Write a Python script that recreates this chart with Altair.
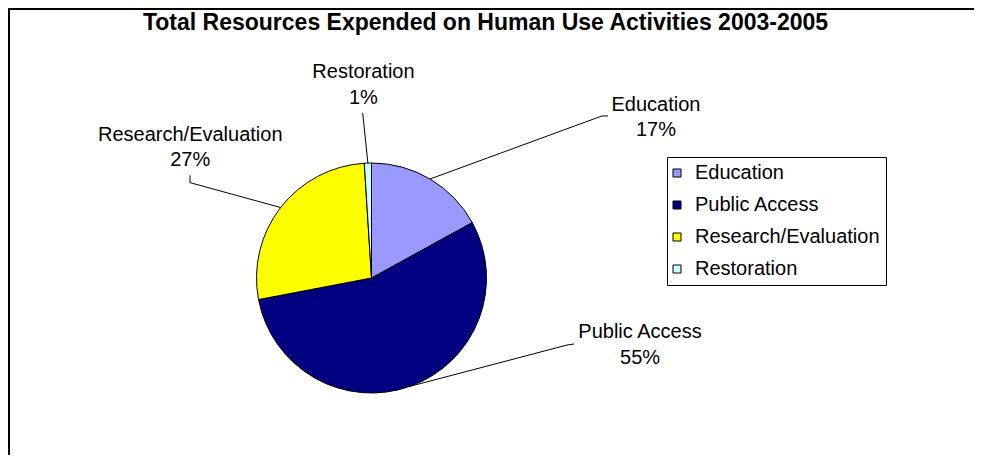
import math
import altair as alt
import pandas as pd

# ---------------- data ----------------
categories = ["Education", "Public Access", "Research/Evaluation", "Restoration"]
values = [17, 55, 27, 1]
colors = ["#9999FF", "#000080", "#FFFF00", "#CCFFFF"]
title_text = "Total Resources Expended on Human Use Activities 2003-2005"

# ---------------- layout (pie-radius units, origin = pie centre, y up) ----------------
leader_elbow = [(2.004, 1.409), (1.700, -0.583), (-1.578, 0.829), (-0.0765, 1.435)]
leader_end = [(2.057, 1.409), (1.761, -0.574), (-1.578, 0.893), (-0.0765, 1.435)]
label_pos = [(2.474, 1.455), (2.335, -0.522), (-1.576, 1.194), (-0.070, 1.737)]

W = 966          # plot width (px)
H = 447          # plot height (px)
R = 115          # pie radius (px)
CX = 363.5       # pie centre inside plot (px)
CY = 270.0

x_dom = [-CX / R, (W - CX) / R]
y_dom = [(CY - H) / R, CY / R]
xs = alt.Scale(domain=x_dom, nice=False, zero=False)
ys = alt.Scale(domain=y_dom, nice=False, zero=False)

FONT = "Liberation Sans"

total = sum(values)
df = pd.DataFrame({
    "category": categories,
    "value": values,
    "idx": list(range(len(categories))),
})
df["label"] = [f"{c}\n{round(v / total * 100)}%" for c, v in zip(categories, values)]

# leader lines: start at mid-angle of each slice on the rim
rows = []
cum = 0.0
for i, (c, v) in enumerate(zip(categories, values)):
    mid = (cum + v / 2) / total * 2 * math.pi
    cum += v
    pts = [(math.sin(mid), math.cos(mid)), leader_elbow[i], leader_end[i]]
    for k, (px, py) in enumerate(pts):
        rows.append({"category": c, "k": k, "x": px, "y": py})
lines_df = pd.DataFrame(rows)

labels_df = pd.DataFrame({
    "label": df["label"],
    "x": [p[0] for p in label_pos],
    "y": [p[1] for p in label_pos],
})

# chart frame (top and left edges), in the same units
fx_left = (1 - CX) / R
fy_top = (CY - 1) / R
frame_df = pd.DataFrame({
    "k": [0, 1, 2],
    "x": [fx_left, fx_left, (W + 8 - CX) / R],
    "y": [y_dom[0] - 0.1, fy_top, fy_top],
})

color_scale = alt.Scale(domain=categories, range=colors)

pie = alt.Chart(df).mark_arc(radius=R, stroke="black", strokeWidth=1).encode(
    theta=alt.Theta("value:Q", stack=True),
    order=alt.Order("idx:Q"),
    color=alt.Color(
        "category:N",
        scale=color_scale,
        legend=alt.Legend(
            title=None,
            orient="none",
            legendX=659,
            legendY=149,
            direction="vertical",
            symbolType="square",
            symbolSize=64,
            symbolStrokeColor="black",
            symbolStrokeWidth=1,
            symbolOffset=-6,
            labelFont=FONT,
            labelFontSize=20,
            labelColor="black",
            labelOffset=8,
            labelLimit=0,
            rowPadding=12,
            padding=6,
            strokeColor="black",
            fillColor="white",
        ),
    ),
    x=alt.value(CX),
    y=alt.value(CY),
)

leaders = alt.Chart(lines_df).mark_line(color="black", strokeWidth=1).encode(
    x=alt.X("x:Q", scale=xs, axis=None),
    y=alt.Y("y:Q", scale=ys, axis=None),
    detail="category:N",
    order="k:Q",
)

texts = alt.Chart(labels_df).mark_text(
    font=FONT, fontSize=20, color="black", align="center",
    baseline="alphabetic", lineBreak="\n", lineHeight=25.5,
).encode(
    x=alt.X("x:Q", scale=xs, axis=None),
    y=alt.Y("y:Q", scale=ys, axis=None),
    text="label:N",
)

frame = alt.Chart(frame_df).mark_line(color="black", strokeWidth=2).encode(
    x=alt.X("x:Q", scale=xs, axis=None),
    y=alt.Y("y:Q", scale=ys, axis=None),
    order="k:Q",
)

title = alt.Chart(alt.Data(values=[{"t": title_text}])).mark_text(
    font=FONT, fontSize=23, fontWeight="bold", color="black",
    align="center", baseline="alphabetic",
).encode(
    text="t:N",
    x=alt.value(477.5),
    y=alt.value(22),
)

chart = alt.layer(frame, pie, leaders, texts, title).properties(
    width=W,
    height=H,
    padding=0,
    autosize=alt.AutoSizeParams(type="none"),
).configure_view(strokeWidth=0, strokeOpacity=0).configure(background="white")

chart.save("out.html", embed_options={"renderer": "svg", "actions": False})
